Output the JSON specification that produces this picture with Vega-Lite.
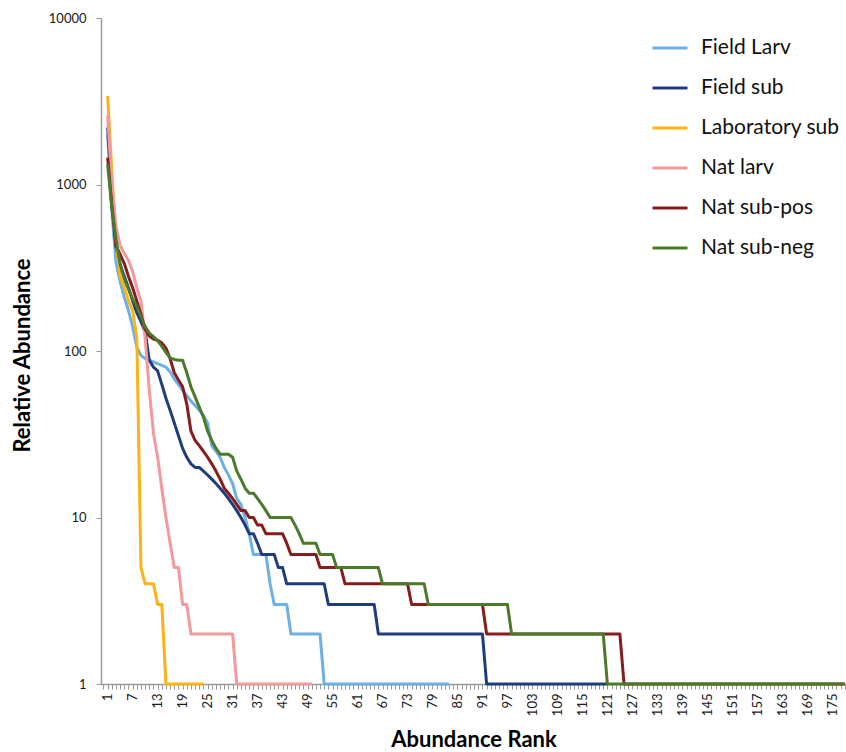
{
"$schema": "https://vega.github.io/schema/vega-lite/v6.json",
"width": 745, "height": 666,
"autosize": {"type": "none"},
"padding": {"left": 101, "top": 18, "right": 0, "bottom": 68},
"background": "white",
"config": {"view": {"stroke": null}, "font": "Lato"},
"datasets": {
"fl": [{"r":1,"v":2000},{"r":2,"v":700},{"r":3,"v":340},{"r":4,"v":260},{"r":5,"v":210},{"r":6,"v":175},{"r":7,"v":140},{"r":8,"v":105},{"r":9,"v":94},{"r":10,"v":90},{"r":11,"v":88},{"r":12,"v":86},{"r":13,"v":84},{"r":14,"v":82},{"r":15,"v":80},{"r":16,"v":75},{"r":17,"v":68},{"r":18,"v":63},{"r":19,"v":58},{"r":20,"v":54},{"r":21,"v":50},{"r":22,"v":47},{"r":23,"v":44},{"r":24,"v":41},{"r":25,"v":37},{"r":26,"v":27},{"r":27,"v":25},{"r":28,"v":23},{"r":29,"v":20},{"r":30,"v":18},{"r":31,"v":16},{"r":32,"v":13},{"r":33,"v":12},{"r":34,"v":10},{"r":35,"v":8},{"r":36,"v":6},{"r":37,"v":6},{"r":38,"v":6},{"r":39,"v":6},{"r":40,"v":4},{"r":41,"v":3},{"r":42,"v":3},{"r":43,"v":3},{"r":44,"v":3},{"r":45,"v":2},{"r":46,"v":2},{"r":47,"v":2},{"r":48,"v":2},{"r":49,"v":2},{"r":50,"v":2},{"r":51,"v":2},{"r":52,"v":2},{"r":53,"v":1},{"r":54,"v":1},{"r":55,"v":1},{"r":56,"v":1},{"r":57,"v":1},{"r":58,"v":1},{"r":59,"v":1},{"r":60,"v":1},{"r":61,"v":1},{"r":62,"v":1},{"r":63,"v":1},{"r":64,"v":1},{"r":65,"v":1},{"r":66,"v":1},{"r":67,"v":1},{"r":68,"v":1},{"r":69,"v":1},{"r":70,"v":1},{"r":71,"v":1},{"r":72,"v":1},{"r":73,"v":1},{"r":74,"v":1},{"r":75,"v":1},{"r":76,"v":1},{"r":77,"v":1},{"r":78,"v":1},{"r":79,"v":1},{"r":80,"v":1},{"r":81,"v":1},{"r":82,"v":1},{"r":83,"v":1}],
"fs": [{"r":1,"v":2200},{"r":2,"v":900},{"r":3,"v":420},{"r":4,"v":330},{"r":5,"v":280},{"r":6,"v":240},{"r":7,"v":200},{"r":8,"v":170},{"r":9,"v":150},{"r":10,"v":130},{"r":11,"v":88},{"r":12,"v":80},{"r":13,"v":76},{"r":14,"v":63},{"r":15,"v":52},{"r":16,"v":44},{"r":17,"v":37},{"r":18,"v":31},{"r":19,"v":26},{"r":20,"v":23},{"r":21,"v":21},{"r":22,"v":20},{"r":23,"v":20},{"r":24,"v":19},{"r":25,"v":18},{"r":26,"v":17},{"r":27,"v":16},{"r":28,"v":15},{"r":29,"v":14},{"r":30,"v":13},{"r":31,"v":12},{"r":32,"v":11},{"r":33,"v":10},{"r":34,"v":9},{"r":35,"v":8},{"r":36,"v":8},{"r":37,"v":7},{"r":38,"v":6},{"r":39,"v":6},{"r":40,"v":6},{"r":41,"v":6},{"r":42,"v":5},{"r":43,"v":5},{"r":44,"v":4},{"r":45,"v":4},{"r":46,"v":4},{"r":47,"v":4},{"r":48,"v":4},{"r":49,"v":4},{"r":50,"v":4},{"r":51,"v":4},{"r":52,"v":4},{"r":53,"v":4},{"r":54,"v":3},{"r":55,"v":3},{"r":56,"v":3},{"r":57,"v":3},{"r":58,"v":3},{"r":59,"v":3},{"r":60,"v":3},{"r":61,"v":3},{"r":62,"v":3},{"r":63,"v":3},{"r":64,"v":3},{"r":65,"v":3},{"r":66,"v":2},{"r":67,"v":2},{"r":68,"v":2},{"r":69,"v":2},{"r":70,"v":2},{"r":71,"v":2},{"r":72,"v":2},{"r":73,"v":2},{"r":74,"v":2},{"r":75,"v":2},{"r":76,"v":2},{"r":77,"v":2},{"r":78,"v":2},{"r":79,"v":2},{"r":80,"v":2},{"r":81,"v":2},{"r":82,"v":2},{"r":83,"v":2},{"r":84,"v":2},{"r":85,"v":2},{"r":86,"v":2},{"r":87,"v":2},{"r":88,"v":2},{"r":89,"v":2},{"r":90,"v":2},{"r":91,"v":2},{"r":92,"v":1},{"r":93,"v":1},{"r":94,"v":1},{"r":95,"v":1},{"r":96,"v":1},{"r":97,"v":1},{"r":98,"v":1},{"r":99,"v":1},{"r":100,"v":1},{"r":101,"v":1},{"r":102,"v":1},{"r":103,"v":1},{"r":104,"v":1},{"r":105,"v":1},{"r":106,"v":1},{"r":107,"v":1},{"r":108,"v":1},{"r":109,"v":1},{"r":110,"v":1},{"r":111,"v":1},{"r":112,"v":1},{"r":113,"v":1},{"r":114,"v":1},{"r":115,"v":1},{"r":116,"v":1},{"r":117,"v":1},{"r":118,"v":1},{"r":119,"v":1},{"r":120,"v":1},{"r":121,"v":1}],
"ls": [{"r":1,"v":3400},{"r":2,"v":1200},{"r":3,"v":450},{"r":4,"v":280},{"r":5,"v":240},{"r":6,"v":200},{"r":7,"v":175},{"r":8,"v":120},{"r":9,"v":5},{"r":10,"v":4},{"r":11,"v":4},{"r":12,"v":4},{"r":13,"v":3},{"r":14,"v":3},{"r":15,"v":1},{"r":16,"v":1},{"r":17,"v":1},{"r":18,"v":1},{"r":19,"v":1},{"r":20,"v":1},{"r":21,"v":1},{"r":22,"v":1},{"r":23,"v":1},{"r":24,"v":1}],
"nl": [{"r":1,"v":2600},{"r":2,"v":1000},{"r":3,"v":560},{"r":4,"v":430},{"r":5,"v":385},{"r":6,"v":350},{"r":7,"v":300},{"r":8,"v":240},{"r":9,"v":200},{"r":10,"v":120},{"r":11,"v":58},{"r":12,"v":32},{"r":13,"v":23},{"r":14,"v":15},{"r":15,"v":10},{"r":16,"v":7},{"r":17,"v":5},{"r":18,"v":5},{"r":19,"v":3},{"r":20,"v":3},{"r":21,"v":2},{"r":22,"v":2},{"r":23,"v":2},{"r":24,"v":2},{"r":25,"v":2},{"r":26,"v":2},{"r":27,"v":2},{"r":28,"v":2},{"r":29,"v":2},{"r":30,"v":2},{"r":31,"v":2},{"r":32,"v":1},{"r":33,"v":1},{"r":34,"v":1},{"r":35,"v":1},{"r":36,"v":1},{"r":37,"v":1},{"r":38,"v":1},{"r":39,"v":1},{"r":40,"v":1},{"r":41,"v":1},{"r":42,"v":1},{"r":43,"v":1},{"r":44,"v":1},{"r":45,"v":1},{"r":46,"v":1},{"r":47,"v":1},{"r":48,"v":1},{"r":49,"v":1},{"r":50,"v":1}],
"sp": [{"r":1,"v":1450},{"r":2,"v":750},{"r":3,"v":430},{"r":4,"v":380},{"r":5,"v":335},{"r":6,"v":280},{"r":7,"v":240},{"r":8,"v":200},{"r":9,"v":165},{"r":10,"v":135},{"r":11,"v":123},{"r":12,"v":118},{"r":13,"v":116},{"r":14,"v":112},{"r":15,"v":104},{"r":16,"v":90},{"r":17,"v":74},{"r":18,"v":67},{"r":19,"v":61},{"r":20,"v":48},{"r":21,"v":33},{"r":22,"v":29},{"r":23,"v":27},{"r":24,"v":25},{"r":25,"v":23},{"r":26,"v":21},{"r":27,"v":19},{"r":28,"v":17},{"r":29,"v":15},{"r":30,"v":14},{"r":31,"v":13},{"r":32,"v":12},{"r":33,"v":11},{"r":34,"v":11},{"r":35,"v":10},{"r":36,"v":10},{"r":37,"v":9},{"r":38,"v":9},{"r":39,"v":8},{"r":40,"v":8},{"r":41,"v":8},{"r":42,"v":8},{"r":43,"v":8},{"r":44,"v":7},{"r":45,"v":6},{"r":46,"v":6},{"r":47,"v":6},{"r":48,"v":6},{"r":49,"v":6},{"r":50,"v":6},{"r":51,"v":6},{"r":52,"v":5},{"r":53,"v":5},{"r":54,"v":5},{"r":55,"v":5},{"r":56,"v":5},{"r":57,"v":5},{"r":58,"v":4},{"r":59,"v":4},{"r":60,"v":4},{"r":61,"v":4},{"r":62,"v":4},{"r":63,"v":4},{"r":64,"v":4},{"r":65,"v":4},{"r":66,"v":4},{"r":67,"v":4},{"r":68,"v":4},{"r":69,"v":4},{"r":70,"v":4},{"r":71,"v":4},{"r":72,"v":4},{"r":73,"v":4},{"r":74,"v":3},{"r":75,"v":3},{"r":76,"v":3},{"r":77,"v":3},{"r":78,"v":3},{"r":79,"v":3},{"r":80,"v":3},{"r":81,"v":3},{"r":82,"v":3},{"r":83,"v":3},{"r":84,"v":3},{"r":85,"v":3},{"r":86,"v":3},{"r":87,"v":3},{"r":88,"v":3},{"r":89,"v":3},{"r":90,"v":3},{"r":91,"v":3},{"r":92,"v":2},{"r":93,"v":2},{"r":94,"v":2},{"r":95,"v":2},{"r":96,"v":2},{"r":97,"v":2},{"r":98,"v":2},{"r":99,"v":2},{"r":100,"v":2},{"r":101,"v":2},{"r":102,"v":2},{"r":103,"v":2},{"r":104,"v":2},{"r":105,"v":2},{"r":106,"v":2},{"r":107,"v":2},{"r":108,"v":2},{"r":109,"v":2},{"r":110,"v":2},{"r":111,"v":2},{"r":112,"v":2},{"r":113,"v":2},{"r":114,"v":2},{"r":115,"v":2},{"r":116,"v":2},{"r":117,"v":2},{"r":118,"v":2},{"r":119,"v":2},{"r":120,"v":2},{"r":121,"v":2},{"r":122,"v":2},{"r":123,"v":2},{"r":124,"v":2},{"r":125,"v":1},{"r":126,"v":1},{"r":127,"v":1},{"r":128,"v":1},{"r":129,"v":1},{"r":130,"v":1},{"r":131,"v":1},{"r":132,"v":1},{"r":133,"v":1},{"r":134,"v":1},{"r":135,"v":1},{"r":136,"v":1},{"r":137,"v":1},{"r":138,"v":1},{"r":139,"v":1},{"r":140,"v":1},{"r":141,"v":1},{"r":142,"v":1},{"r":143,"v":1},{"r":144,"v":1},{"r":145,"v":1},{"r":146,"v":1},{"r":147,"v":1},{"r":148,"v":1},{"r":149,"v":1},{"r":150,"v":1},{"r":151,"v":1},{"r":152,"v":1},{"r":153,"v":1},{"r":154,"v":1},{"r":155,"v":1},{"r":156,"v":1},{"r":157,"v":1},{"r":158,"v":1},{"r":159,"v":1},{"r":160,"v":1},{"r":161,"v":1},{"r":162,"v":1},{"r":163,"v":1},{"r":164,"v":1},{"r":165,"v":1},{"r":166,"v":1},{"r":167,"v":1},{"r":168,"v":1},{"r":169,"v":1},{"r":170,"v":1},{"r":171,"v":1},{"r":172,"v":1},{"r":173,"v":1},{"r":174,"v":1},{"r":175,"v":1},{"r":176,"v":1},{"r":177,"v":1},{"r":178,"v":1}],
"sn": [{"r":1,"v":1320},{"r":2,"v":730},{"r":3,"v":470},{"r":4,"v":330},{"r":5,"v":270},{"r":6,"v":235},{"r":7,"v":205},{"r":8,"v":185},{"r":9,"v":160},{"r":10,"v":140},{"r":11,"v":128},{"r":12,"v":122},{"r":13,"v":115},{"r":14,"v":107},{"r":15,"v":98},{"r":16,"v":91},{"r":17,"v":89},{"r":18,"v":88},{"r":19,"v":88},{"r":20,"v":74},{"r":21,"v":61},{"r":22,"v":53},{"r":23,"v":46},{"r":24,"v":40},{"r":25,"v":33},{"r":26,"v":29},{"r":27,"v":26},{"r":28,"v":24},{"r":29,"v":24},{"r":30,"v":24},{"r":31,"v":23},{"r":32,"v":19},{"r":33,"v":17},{"r":34,"v":15},{"r":35,"v":14},{"r":36,"v":14},{"r":37,"v":13},{"r":38,"v":12},{"r":39,"v":11},{"r":40,"v":10},{"r":41,"v":10},{"r":42,"v":10},{"r":43,"v":10},{"r":44,"v":10},{"r":45,"v":10},{"r":46,"v":9},{"r":47,"v":8},{"r":48,"v":7},{"r":49,"v":7},{"r":50,"v":7},{"r":51,"v":7},{"r":52,"v":6},{"r":53,"v":6},{"r":54,"v":6},{"r":55,"v":6},{"r":56,"v":5},{"r":57,"v":5},{"r":58,"v":5},{"r":59,"v":5},{"r":60,"v":5},{"r":61,"v":5},{"r":62,"v":5},{"r":63,"v":5},{"r":64,"v":5},{"r":65,"v":5},{"r":66,"v":5},{"r":67,"v":4},{"r":68,"v":4},{"r":69,"v":4},{"r":70,"v":4},{"r":71,"v":4},{"r":72,"v":4},{"r":73,"v":4},{"r":74,"v":4},{"r":75,"v":4},{"r":76,"v":4},{"r":77,"v":4},{"r":78,"v":3},{"r":79,"v":3},{"r":80,"v":3},{"r":81,"v":3},{"r":82,"v":3},{"r":83,"v":3},{"r":84,"v":3},{"r":85,"v":3},{"r":86,"v":3},{"r":87,"v":3},{"r":88,"v":3},{"r":89,"v":3},{"r":90,"v":3},{"r":91,"v":3},{"r":92,"v":3},{"r":93,"v":3},{"r":94,"v":3},{"r":95,"v":3},{"r":96,"v":3},{"r":97,"v":3},{"r":98,"v":2},{"r":99,"v":2},{"r":100,"v":2},{"r":101,"v":2},{"r":102,"v":2},{"r":103,"v":2},{"r":104,"v":2},{"r":105,"v":2},{"r":106,"v":2},{"r":107,"v":2},{"r":108,"v":2},{"r":109,"v":2},{"r":110,"v":2},{"r":111,"v":2},{"r":112,"v":2},{"r":113,"v":2},{"r":114,"v":2},{"r":115,"v":2},{"r":116,"v":2},{"r":117,"v":2},{"r":118,"v":2},{"r":119,"v":2},{"r":120,"v":2},{"r":121,"v":1},{"r":122,"v":1},{"r":123,"v":1},{"r":124,"v":1},{"r":125,"v":1},{"r":126,"v":1},{"r":127,"v":1},{"r":128,"v":1},{"r":129,"v":1},{"r":130,"v":1},{"r":131,"v":1},{"r":132,"v":1},{"r":133,"v":1},{"r":134,"v":1},{"r":135,"v":1},{"r":136,"v":1},{"r":137,"v":1},{"r":138,"v":1},{"r":139,"v":1},{"r":140,"v":1},{"r":141,"v":1},{"r":142,"v":1},{"r":143,"v":1},{"r":144,"v":1},{"r":145,"v":1},{"r":146,"v":1},{"r":147,"v":1},{"r":148,"v":1},{"r":149,"v":1},{"r":150,"v":1},{"r":151,"v":1},{"r":152,"v":1},{"r":153,"v":1},{"r":154,"v":1},{"r":155,"v":1},{"r":156,"v":1},{"r":157,"v":1},{"r":158,"v":1},{"r":159,"v":1},{"r":160,"v":1},{"r":161,"v":1},{"r":162,"v":1},{"r":163,"v":1},{"r":164,"v":1},{"r":165,"v":1},{"r":166,"v":1},{"r":167,"v":1},{"r":168,"v":1},{"r":169,"v":1},{"r":170,"v":1},{"r":171,"v":1},{"r":172,"v":1},{"r":173,"v":1},{"r":174,"v":1},{"r":175,"v":1},{"r":176,"v":1},{"r":177,"v":1},{"r":178,"v":1}]
},
"encoding": {
"x": {"field": "r", "type": "quantitative", "scale": {"domain": [-0.6, 178.3], "nice": false, "zero": false},
 "axis": {"title": "Abundance Rank", "tickCount": 180, "labelExpr": "(datum.value - 1) % 6 == 0 && datum.value >= 1 && datum.value <= 175 ? datum.label : ''", "labelAngle": -90, "labelOverlap": false, "labelFlush": false, "labelFontSize": 13, "labelColor": "#1a1a1a", "labelPadding": 4, "tickSize": 5, "tickColor": "#9a9a9a", "domainColor": "#9a9a9a", "domainWidth": 1.5, "grid": false, "titleFontSize": 22, "titleFontWeight": "bold", "titleColor": "#000", "titleY": 45, "titleBaseline": "top"}},
"y": {"field": "v", "type": "quantitative", "scale": {"type": "log", "domain": [1, 10000]},
 "axis": {"title": "Relative Abundance", "values": [1, 10, 100, 1000, 10000], "format": "d", "labelFontSize": 13, "labelColor": "#1a1a1a", "labelPadding": 10, "tickSize": 5, "tickColor": "#9a9a9a", "domainColor": "#9a9a9a", "domainWidth": 1.5, "grid": false, "titleFontSize": 22, "titleFontWeight": "bold", "titleColor": "#000", "titleX": -79, "titleY": 337, "titleBaseline": "middle", "titleAlign": "center"}}
},
"layer": [
{"data": {"name": "fl"}, "mark": {"type": "line", "strokeWidth": 3, "strokeJoin": "round"}, "encoding": {"color": {"datum": "Field Larv", "type": "nominal",
 "scale": {"domain": ["Field Larv", "Field sub", "Laboratory sub", "Nat larv", "Nat sub-pos", "Nat sub-neg"], "range": ["#6cb0e6", "#1f3c7c", "#fbb316", "#f4999b", "#861c1c", "#4b7a2b"]},
 "legend": {"title": null, "orient": "none", "legendX": 550, "legendY": 11, "symbolType": "stroke", "symbolStrokeWidth": 3, "symbolSize": 1225, "labelFontSize": 21, "labelColor": "#111", "rowPadding": 11, "labelOffset": 12}}}},
{"data": {"name": "fs"}, "mark": {"type": "line", "strokeWidth": 3, "strokeJoin": "round"}, "encoding": {"color": {"datum": "Field sub", "type": "nominal"}}},
{"data": {"name": "ls"}, "mark": {"type": "line", "strokeWidth": 3, "strokeJoin": "round"}, "encoding": {"color": {"datum": "Laboratory sub", "type": "nominal"}}},
{"data": {"name": "nl"}, "mark": {"type": "line", "strokeWidth": 3, "strokeJoin": "round"}, "encoding": {"color": {"datum": "Nat larv", "type": "nominal"}}},
{"data": {"name": "sp"}, "mark": {"type": "line", "strokeWidth": 3, "strokeJoin": "round"}, "encoding": {"color": {"datum": "Nat sub-pos", "type": "nominal"}}},
{"data": {"name": "sn"}, "mark": {"type": "line", "strokeWidth": 3, "strokeJoin": "round"}, "encoding": {"color": {"datum": "Nat sub-neg", "type": "nominal"}}}
]
}
